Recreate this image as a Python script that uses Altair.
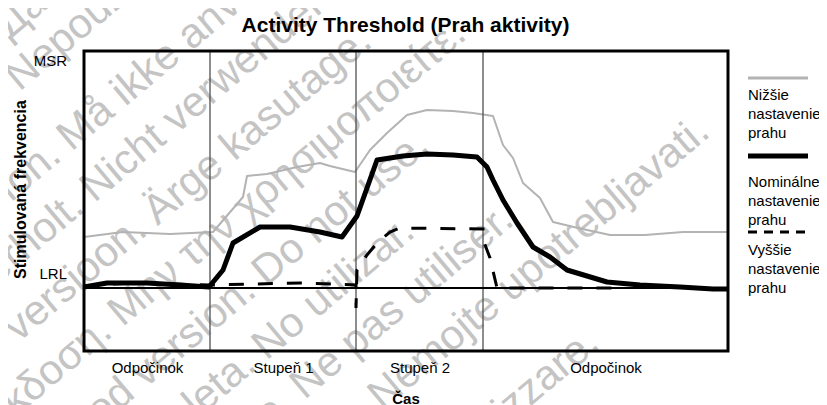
import json
import math
import pandas as pd
import altair as alt

FONT = "Liberation Sans"

# ---------------- data (time in arbitrary units, rate in arbitrary units) ----------------
lower_x = [0, 39, 86, 129, 159, 163, 183, 213, 236, 246, 271, 286, 303, 323, 343, 369, 389, 409,
           419, 429, 439, 456, 469, 494, 526, 561, 599, 644]
lower_y = [114, 119, 117, 119, 154, 175, 177, 184, 188, 185, 179, 201, 218, 236, 241, 240, 238, 235,
           206, 193, 168, 153, 129, 123, 116, 116, 119, 119]

nominal_x = [0, 23, 63, 96, 125, 139, 149, 176, 206, 236, 258, 273, 293, 319, 343, 369, 393, 403,
             409, 419, 433, 449, 466, 483, 523, 556, 596, 629, 644]
nominal_y = [64, 68, 68, 66, 64, 81, 108, 124, 124, 119, 114, 135, 191, 195, 197, 196, 194, 184,
             171, 151, 128, 104, 94, 81, 69, 66, 64, 62, 62]

higher_x = [0, 46, 126, 216, 272, 272, 273, 283, 293, 306, 316, 399, 400, 406, 413, 529]
higher_y = [65, 68, 66, 68, 66, 43, 81, 96, 108, 119, 123, 122, 109, 93, 63, 63]

series_names = ["Nižšie\nnastavenie\nprahu", "Nominálne\nnastavenie\nprahu", "Vyššie\nnastavenie\nprahu"]

phase_names = ["Odpočinok", "Stupeň 1", "Stupeň 2", "Odpočinok"]
phase_bounds = [0, 126, 272, 399, 644]
LRL = 63
MSR = 300
y_tick_labels = ["LRL", "MSR"]
y_label_pos = [78, 291]

title_text = "Activity Threshold (Prah aktivity)"
x_title = "Čas"
y_title = "Stimulovaná frekvencia"

# watermark text (background)
wm_prefix = ["Остаряла версия.", "Zastaraná verzia.", "Forældet version.", "Version überholt.",
             "Aegunud versioon.", "Παλιά έκδοση.", "Outdated version.", "Versión obsoleta.",
             "Version périmée.", "Zastarjela verzija.", "Versione obsoleta."]
wm_suffix = ["Да не се използва.", "Nepoužívať.", "Må ikke anvendes.", "Nicht verwenden.",
             "Ärge kasutage.", "Μην την χρησιμοποιείτε.", "Do not use.", "No utilizar.",
             "Ne pas utiliser.", "Nemojte upotrebljavati.", "Non utilizzare."]
wm_c = [48, 108, 210, 280, 354, 427, 503, 577, 647, 721, 840]
wm_ax = [5, 15, 67, 90, 153, 118, 262, 262, 300, 378, 393]

# ---------------- layout ----------------
W, H = 644, 300
PLOT_L, PLOT_T = 84, 51          # page coordinates of the plot's top-left corner
PAD = {"left": PLOT_L - 8, "top": PLOT_T - 8, "right": 811 - (PLOT_L - 8) - W, "bottom": 54}

xs = alt.Scale(domain=[0, W], nice=False, zero=False)
ys = alt.Scale(domain=[0, H], nice=False, zero=False)

centers = [(phase_bounds[i] + phase_bounds[i + 1]) / 2 for i in range(len(phase_names))]
x_label_expr = (json.dumps(phase_names, ensure_ascii=False) + "[indexof(" +
                json.dumps(centers) + ", datum.value)]")

x_axis = alt.Axis(values=centers, labelExpr=x_label_expr, domain=False, ticks=False, tickSize=0,
                  grid=False, labelFont=FONT, labelFontSize=15, labelColor="black",
                  labelBaseline="alphabetic", labelPadding=21.5, labelAngle=0, zindex=2,
                  title=x_title, titleFont=FONT, titleFontSize=15, titleFontWeight="bold",
                  titleColor="black", titleX=405.5 - PLOT_L, titleY=403 - (PLOT_T + H),
                  titleBaseline="alphabetic", titleAlign="center")
y_axis = alt.Axis(values=y_label_pos,
                  labelExpr="datum.value > 150 ? '%s' : '%s'" % (y_tick_labels[1], y_tick_labels[0]),
                  domain=False, ticks=False, tickSize=0, grid=False, labelFont=FONT,
                  labelFontSize=15, labelColor="black", labelBaseline="middle",
                  labelPadding=PLOT_L - 66.5, zindex=2,
                  title=y_title, titleFont=FONT, titleFontSize=16, titleFontWeight="bold",
                  titleColor="black", titleAngle=270, titleX=25 - PLOT_L, titleY=189 - PLOT_T,
                  titleBaseline="alphabetic", titleAlign="center")


def line_df(xv, yv):
    return pd.DataFrame({"t": xv, "rate": yv, "i": list(range(len(xv)))})


# watermark layer (positions derived from line geometry, converted to scale units = px)
tan39 = math.tan(math.radians(39))
wm_df = pd.DataFrame({
    "prefix": wm_prefix,
    "suffix": wm_suffix,
    "wx": [a - PLOT_L for a in wm_ax],
    "wy": [(PLOT_T + H) - (c - tan39 * a) for c, a in zip(wm_c, wm_ax)],
})
wm_base = alt.Chart(wm_df).encode(x=alt.X("wx:Q", scale=xs), y=alt.Y("wy:Q", scale=ys))
wm_style = dict(baseline="alphabetic", angle=320, fontSize=42, font=FONT, color="#c4c4c4")
wm_pre = wm_base.mark_text(align="right", dx=-5, **wm_style).encode(text="prefix:N")
wm_suf = wm_base.mark_text(align="left", dx=6, **wm_style).encode(text="suffix:N")

# plot frame drawn above the watermark
frame = alt.Chart(pd.DataFrame({"f": [0]})).mark_rect(
    filled=False, stroke="black", strokeWidth=3).encode(
    x=alt.value(0), x2=alt.value(W), y=alt.value(0), y2=alt.value(H))

# main marks
base_enc = dict(x=alt.X("t:Q", scale=xs, axis=x_axis), y=alt.Y("rate:Q", scale=ys, axis=y_axis),
                order="i:O")

lower = alt.Chart(line_df(lower_x, lower_y)).mark_line(
    color="#b3b3b3", strokeWidth=2, strokeJoin="round").encode(**base_enc)

lrl = alt.Chart(pd.DataFrame({"v": [LRL]})).mark_rule(color="black", strokeWidth=2).encode(
    y=alt.Y("v:Q", scale=ys))

phases = alt.Chart(pd.DataFrame({"b": phase_bounds[1:-1]})).mark_rule(
    color="#505050", strokeWidth=1.3).encode(x=alt.X("b:Q", scale=xs))

higher = alt.Chart(line_df(higher_x, higher_y)).mark_line(
    color="black", strokeWidth=3, strokeDash=[15, 14]).encode(**base_enc)

nominal = alt.Chart(line_df(nominal_x, nominal_y)).mark_line(
    color="black", strokeWidth=5, strokeJoin="round").encode(**base_enc)

title = alt.Chart(pd.DataFrame({"s": [title_text]})).mark_text(
    font=FONT, fontSize=21, fontWeight="bold", align="center", baseline="alphabetic",
    color="black").encode(x=alt.value(405.5 - PLOT_L), y=alt.value(32 - PLOT_T), text="s:N")

# custom legend (line sample above a wrapped label)
leg_line_y = [78, 156, 232]
leg_text_y = [100, 187, 255]
leg_styles = [dict(color="#b3b3b3", strokeWidth=3),
              dict(color="black", strokeWidth=5),
              dict(color="black", strokeWidth=3, strokeDash=[9, 7])]
legend_layers = []
for name, ly, ty, st in zip(series_names, leg_line_y, leg_text_y, leg_styles):
    d = pd.DataFrame({"label": [name]})
    legend_layers.append(alt.Chart(d).mark_rule(**st).encode(
        x=alt.value(748 - PLOT_L), x2=alt.value(808 - PLOT_L), y=alt.value(ly - PLOT_T)))
    legend_layers.append(alt.Chart(d).mark_text(
        font=FONT, fontSize=15, align="left", baseline="alphabetic", lineBreak="\n",
        lineHeight=19, color="black").encode(
        x=alt.value(748 - PLOT_L), y=alt.value(ty - PLOT_T), text="label:N"))

chart = alt.layer(wm_pre, wm_suf, lower, phases, lrl, higher, nominal, frame, title,
                  *legend_layers).properties(
    width=W, height=H,
    autosize=alt.AutoSizeParams(type="none"),
    padding=PAD,
    background="white",
).configure_view(stroke=None)

chart.save("out.html", embed_options={"renderer": "svg", "actions": False})
